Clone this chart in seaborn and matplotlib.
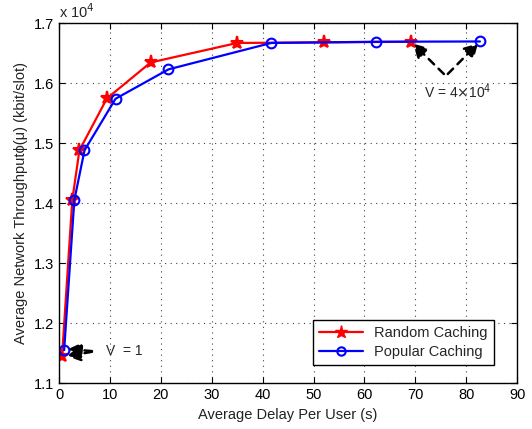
import matplotlib
matplotlib.use("Agg")
import matplotlib.pyplot as plt
import seaborn as sns
import pandas as pd

random_delay = [0.6, 2.6, 4.0, 9.4, 18.0, 35.0, 52.1, 69.2]
random_thr = [1.146, 1.405, 1.488, 1.5745, 1.6345, 1.667, 1.668, 1.669]
popular_delay = [1.0, 3.0, 5.0, 11.1, 21.5, 41.7, 62.2, 82.7]
popular_thr = [1.155, 1.405, 1.488, 1.574, 1.623, 1.667, 1.669, 1.6695]
series_names = ["Random Caching", "Popular Caching"]

df = pd.concat([
    pd.DataFrame({"delay": random_delay, "thr": random_thr, "s": series_names[0]}),
    pd.DataFrame({"delay": popular_delay, "thr": popular_thr, "s": series_names[1]}),
])

sns.set_style("white")
plt.rcParams["font.family"] = ["Liberation Sans", "DejaVu Sans"]

fig = plt.figure(figsize=(5.32, 4.29), dpi=100)
ax = fig.add_axes([0.111, 0.107, 0.861, 0.839])

sns.lineplot(data=df, x="delay", y="thr", hue="s", style="s",
             palette={"Random Caching": "red", "Popular Caching": "blue"},
             markers={"Random Caching": "*", "Popular Caching": "o"},
             dashes=False, sort=False, ax=ax, linewidth=1.6, legend=False)
for ln, ms, mfc in zip(ax.lines[:2], [9.5, 7], ["red", "none"]):
    ln.set_markersize(ms)
    ln.set_markerfacecolor(mfc)
    ln.set_markeredgewidth(1.5)
    ln.set_markeredgecolor(ln.get_color())

ax.set_xlim(0, 90)
ax.set_ylim(1.1, 1.7)
ax.set_xticks(range(0, 91, 10))
ax.set_yticks([1.1, 1.2, 1.3, 1.4, 1.5, 1.6, 1.7])
ax.set_yticklabels(["1.1", "1.2", "1.3", "1.4", "1.5", "1.6", "1.7"])
ax.grid(True, linestyle=(0, (1, 4)), color="#444444", linewidth=0.8)
for sp in ax.spines.values():
    sp.set_color("black")
    sp.set_linewidth(1.0)
ax.tick_params(direction="in", length=4, labelsize=10.5, colors="black",
               top=True, right=True, bottom=True, left=True)
ax.set_xlabel("Average Delay Per User (s)", fontsize=10.5, color="#222222")
ax.set_ylabel("Average Network Throughput\u03d5(\u03bc) (kbit/slot)", fontsize=10.5, color="#222222")
ax.text(0.0, 1.005, r"x 10$^4$", transform=ax.transAxes, fontsize=10.5, ha="left", va="bottom")

# legend
from matplotlib.lines import Line2D
handles = [Line2D([], [], color="red", marker="*", markersize=9.5, lw=1.6),
           Line2D([], [], color="blue", marker="o", markersize=6, mfc="none", mew=1.5, lw=1.6)]
leg = ax.legend(handles, series_names, loc="lower right", bbox_to_anchor=(0.965, 0.03),
                fancybox=False, framealpha=1, edgecolor="black", fontsize=10.5,
                handlelength=3.0, borderpad=0.4, labelspacing=0.35)
leg.get_frame().set_linewidth(1.0)

# annotations
arrowkw = dict(arrowstyle="-|>,head_length=0.8,head_width=0.45", color="black",
               lw=1.8, linestyle=(0, (3, 2.5)))
ax.annotate("", xy=(random_delay[-1], random_thr[-1]), xytext=(76, 1.612),
            arrowprops=arrowkw)
ax.annotate("", xy=(popular_delay[-1], popular_thr[-1]), xytext=(76, 1.612),
            arrowprops=arrowkw)
ax.text(78.4, 1.585, r"V = 4$\times$10$^4$", fontsize=10, ha="center", va="center")

ax.annotate("", xy=(random_delay[0] + 0.4, random_thr[0] - 0.002), xytext=(7, 1.153),
            arrowprops=arrowkw)
ax.annotate("", xy=(popular_delay[0] + 0.2, popular_thr[0] + 0.002), xytext=(7, 1.153),
            arrowprops=arrowkw)
ax.text(9.3, 1.153, "V  = 1", fontsize=10, ha="left", va="center")

fig.savefig("out.png", dpi=100)
